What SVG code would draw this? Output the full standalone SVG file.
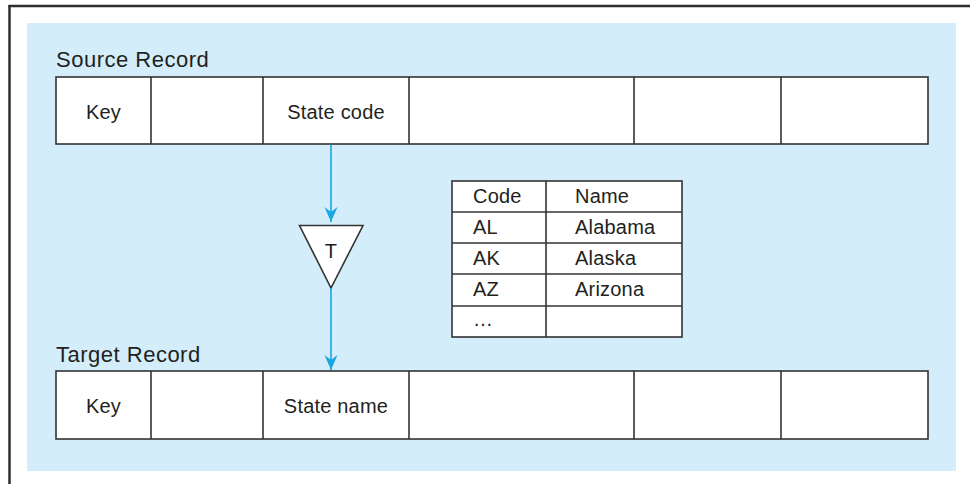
<svg xmlns="http://www.w3.org/2000/svg" width="970" height="484" viewBox="0 0 970 484">
  <style>
    .frame { stroke: #2e2e2e; stroke-width: 2.5; fill: none; }
    .cell { fill: #ffffff; stroke: #333333; stroke-width: 1.6; }
    .div { stroke: #333333; stroke-width: 1.6; }
    .txt { font-family: "Liberation Sans", Arial, sans-serif; font-size: 20px; fill: #231f20; letter-spacing: 0.2px; }
    .title { font-family: "Liberation Sans", Arial, sans-serif; font-size: 22px; fill: #231f20; letter-spacing: 0.5px; }
    .mid { text-anchor: middle; }
    .conn { stroke: #1aa6df; stroke-width: 1.6; fill: none; }
  </style>
  <defs>
    <marker id="arrow" viewBox="-16 -8 17 16" refX="0" refY="0" markerWidth="17" markerHeight="16" markerUnits="userSpaceOnUse" orient="auto">
      <path d="M0,0 L-15,-6.5 L-10,0 L-15,6.5 Z" fill="#1aa6df"/>
    </marker>
  </defs>

  <rect x="0" y="0" width="970" height="484" fill="#ffffff"/>
  <g id="frame">
    <line class="frame" x1="8.5" y1="6" x2="970" y2="6"/>
    <line class="frame" x1="9.5" y1="5" x2="9.5" y2="484"/>
  </g>
  <rect id="panel" x="27" y="23" width="929" height="448" fill="#d3eefa"/>

  <g id="source-record">
    <text class="title" x="56" y="67">Source Record</text>
    <rect class="cell" x="56" y="77" width="872" height="67"/>
    <line class="div" x1="151" y1="77" x2="151" y2="144"/>
    <line class="div" x1="263" y1="77" x2="263" y2="144"/>
    <line class="div" x1="409" y1="77" x2="409" y2="144"/>
    <line class="div" x1="634" y1="77" x2="634" y2="144"/>
    <line class="div" x1="781" y1="77" x2="781" y2="144"/>
    <text class="txt mid" x="103.5" y="118.5">Key</text>
    <text class="txt mid" x="336" y="118.5">State code</text>
  </g>

  <g id="transform">
    <polygon points="299.5,225.5 363,225.5 331,288" fill="#ffffff" stroke="#333333" stroke-width="1.6"/>
    <text class="txt mid" x="331" y="257.5">T</text>
  </g>

  <g id="lookup-table">
    <rect class="cell" x="452" y="181" width="230" height="156"/>
    <line class="div" x1="546" y1="181" x2="546" y2="337"/>
    <line class="div" x1="452" y1="212" x2="682" y2="212"/>
    <line class="div" x1="452" y1="243" x2="682" y2="243"/>
    <line class="div" x1="452" y1="274" x2="682" y2="274"/>
    <line class="div" x1="452" y1="306" x2="682" y2="306"/>
    <text class="txt" x="473" y="203">Code</text>
    <text class="txt" x="575" y="203">Name</text>
    <text class="txt" x="473" y="234">AL</text>
    <text class="txt" x="575" y="234">Alabama</text>
    <text class="txt" x="473" y="265">AK</text>
    <text class="txt" x="575" y="265">Alaska</text>
    <text class="txt" x="473" y="296">AZ</text>
    <text class="txt" x="575" y="296">Arizona</text>
    <text class="txt" x="473" y="326">…</text>
  </g>

  <g id="target-record">
    <text class="title" x="56" y="362">Target Record</text>
    <rect class="cell" x="56" y="371" width="872" height="68"/>
    <line class="div" x1="151" y1="371" x2="151" y2="439"/>
    <line class="div" x1="263" y1="371" x2="263" y2="439"/>
    <line class="div" x1="409" y1="371" x2="409" y2="439"/>
    <line class="div" x1="634" y1="371" x2="634" y2="439"/>
    <line class="div" x1="781" y1="371" x2="781" y2="439"/>
    <text class="txt mid" x="103.5" y="413">Key</text>
    <text class="txt mid" x="336" y="413">State name</text>
  </g>

  <g id="connectors">
    <line class="conn" x1="331" y1="144.8" x2="331" y2="222" marker-end="url(#arrow)"/>
    <line class="conn" x1="331" y1="288" x2="331" y2="370" marker-end="url(#arrow)"/>
  </g>
</svg>
